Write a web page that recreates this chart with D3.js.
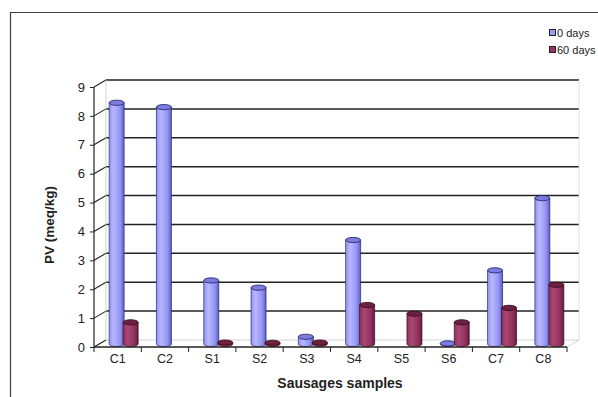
<!DOCTYPE html>
<html>
<head>
<meta charset="utf-8">
<script src="https://cdn.jsdelivr.net/npm/d3@7"></script>
<style>
  html, body { margin: 0; padding: 0; background: #fff; }
  svg { display: block; font-family: "Liberation Sans", Arial, sans-serif; }
</style>
</head>
<body>
<svg id="chart" width="598" height="397"></svg>
<script>
// Peroxide value per sausage sample, at 0 and 60 days of storage
const categories = ["C1", "C2", "S1", "S2", "S3", "S4", "S5", "S6", "C7", "C8"];
const day0 = [8.35, 8.2, 2.2, 1.95, 0.25, 3.6, 0, 0.02, 2.55, 5.05];
const day60 = [0.75, 0, 0.05, 0.04, 0.05, 1.35, 1.05, 0.75, 1.25, 2.05];
const seriesNames = ["0 days", "60 days"];
const yTicks = [0, 1, 2, 3, 4, 5, 6, 7, 8, 9];

const svg = d3.select("#chart");
const W = 598, H = 397;

// 3D depth offset of the back wall
const DX = 12, DY = -7;
const x = d3.scaleBand().domain(categories).range([94, 567]).paddingInner(0).paddingOuter(0);
const yFront = d3.scaleLinear().domain([0, 9]).range([347, 87]);
const yBack = yFront.copy().range([347 + DY, 87 + DY]);
const yMid = yFront.copy().range([347 + DY / 2 + 0.5, 87 + DY / 2 + 0.5]);

const lineCol = "#222";

// outer frame
svg.append("path")
  .attr("d", `M10.5,${H} L10.5,12.5 L${W},12.5`)
  .attr("fill", "none").attr("stroke", "#404040").attr("stroke-width", 1.2);

// back-wall gridlines
const x0 = x.range()[0], x1 = x.range()[1];
svg.append("g").selectAll("line").data(yTicks.filter(d => d > 0)).join("line")
  .attr("x1", x0 + DX).attr("x2", x1 + DX)
  .attr("y1", d => yBack(d)).attr("y2", d => yBack(d))
  .attr("stroke", lineCol).attr("stroke-width", 1.5);

// side wall: diagonal strokes from the axis ticks to the back wall
svg.append("g").selectAll("line").data(yTicks).join("line")
  .attr("x1", x0).attr("y1", d => yFront(d))
  .attr("x2", x0 + DX).attr("y2", d => yBack(d))
  .attr("stroke", lineCol).attr("stroke-width", 1.1);
svg.append("line")
  .attr("x1", x0 + DX).attr("x2", x0 + DX)
  .attr("y1", yBack(0)).attr("y2", yBack(9))
  .attr("stroke", "#c8c8c8").attr("stroke-width", 0.8);
// floor back edge and right edge
svg.append("line")
  .attr("x1", x0 + DX).attr("x2", x1 + DX)
  .attr("y1", yBack(0)).attr("y2", yBack(0))
  .attr("stroke", "#c8c8c8").attr("stroke-width", 0.8);
svg.append("line")
  .attr("x1", x1 + DX).attr("x2", x1 + DX)
  .attr("y1", yBack(0)).attr("y2", yBack(9))
  .attr("stroke", "#d8d8d8").attr("stroke-width", 0.8);
svg.append("line")
  .attr("x1", x1).attr("y1", yFront(0))
  .attr("x2", x1 + DX).attr("y2", yBack(0))
  .attr("stroke", "#c8c8c8").attr("stroke-width", 0.8);

// gradients for the cylinders
const defs = svg.append("defs");
function cylGrad(id, dark, mid, light) {
  const g = defs.append("linearGradient").attr("id", id)
    .attr("x1", "0%").attr("x2", "100%").attr("y1", "0%").attr("y2", "0%");
  g.append("stop").attr("offset", "0%").attr("stop-color", mid);
  g.append("stop").attr("offset", "30%").attr("stop-color", light);
  g.append("stop").attr("offset", "75%").attr("stop-color", mid);
  g.append("stop").attr("offset", "100%").attr("stop-color", dark);
}
cylGrad("gBlue", "#5c5cc0", "#9292f4", "#b8b8ff");
cylGrad("gRed", "#5e1f3e", "#912f5f", "#aa4872");

const series = [
  { name: seriesNames[0], values: day0, grad: "url(#gBlue)", top: "#7b7be0", edge: "#2a2a70", off: -1 },
  { name: seriesNames[1], values: day60, grad: "url(#gRed)", top: "#6e2040", edge: "#3a0f22", off: 13 }
];

const barW = 15, ry = 2.6;
const bars = svg.append("g");
series.forEach(s => {
  s.values.forEach((v, i) => {
    if (v <= 0) return;
    const cx = x(categories[i]) + x.bandwidth() / 2 + s.off;
    const yb = yMid(0), yt = yMid(v);
    const l = cx - barW / 2, r = cx + barW / 2;
    const g = bars.append("g");
    // body with rounded bottom
    g.append("path")
      .attr("d", `M${l},${yt} L${l},${yb} A${barW / 2},${ry} 0 0 0 ${r},${yb} L${r},${yt} Z`)
      .attr("fill", s.grad).attr("stroke", s.edge).attr("stroke-width", 0.7);
    // top cap
    g.append("ellipse")
      .attr("cx", cx).attr("cy", yt).attr("rx", barW / 2).attr("ry", ry)
      .attr("fill", s.top).attr("stroke", s.edge).attr("stroke-width", 0.9);
  });
});

// front y axis
svg.append("line")
  .attr("x1", x0).attr("x2", x0).attr("y1", yFront(0)).attr("y2", yFront(9))
  .attr("stroke", lineCol).attr("stroke-width", 1.2);
const yAxis = d3.axisLeft(yFront).tickValues(yTicks).tickSize(4).tickPadding(5).tickFormat(d3.format("d"));
const ya = svg.append("g").attr("transform", `translate(${x0},0)`).call(yAxis);
ya.select(".domain").remove();
ya.selectAll(".tick line").attr("stroke", lineCol);
ya.selectAll("text").attr("font-size", 13).attr("fill", "#222")
  .attr("font-family", "Liberation Sans, Arial, sans-serif");

// front floor edge and category axis
svg.append("line")
  .attr("x1", x0).attr("x2", x1).attr("y1", yFront(0)).attr("y2", yFront(0))
  .attr("stroke", lineCol).attr("stroke-width", 1.3);
const xa = svg.append("g").attr("transform", `translate(0,${yFront(0)})`)
  .call(d3.axisBottom(x).tickSize(0).tickPadding(7));
xa.select(".domain").remove();
xa.selectAll("text").attr("font-size", 12.5).attr("fill", "#222")
  .attr("font-family", "Liberation Sans, Arial, sans-serif");
// ticks between categories
const bounds = categories.map(c => x(c)).concat([x1]);
svg.append("g").selectAll("line").data(bounds).join("line")
  .attr("x1", d => d).attr("x2", d => d)
  .attr("y1", yFront(0)).attr("y2", yFront(0) + 5)
  .attr("stroke", lineCol).attr("stroke-width", 1);

// axis titles
svg.append("text")
  .attr("transform", `translate(54,${(yFront(0) + yFront(9)) / 2 + 8}) rotate(-90)`)
  .attr("text-anchor", "middle").attr("font-size", 13.5).attr("font-weight", "bold")
  .attr("fill", "#222").text("PV (meq/kg)");
svg.append("text")
  .attr("x", 340).attr("y", 388)
  .attr("text-anchor", "middle").attr("font-size", 14).attr("font-weight", "bold")
  .attr("fill", "#222").text("Sausages samples");

// legend
const legendFill = ["#9999ff", "#993366"];
const lg = svg.append("g");
seriesNames.forEach((n, i) => {
  const yy = 33 + i * 17;
  lg.append("rect").attr("x", 549.5).attr("y", yy - 3.5).attr("width", 6).attr("height", 6)
    .attr("fill", legendFill[i]).attr("stroke", "#222").attr("stroke-width", 1);
  lg.append("text").attr("x", 557).attr("y", yy + 4)
    .attr("font-size", 11).attr("fill", "#222").text(n);
});
</script>
</body>
</html>
